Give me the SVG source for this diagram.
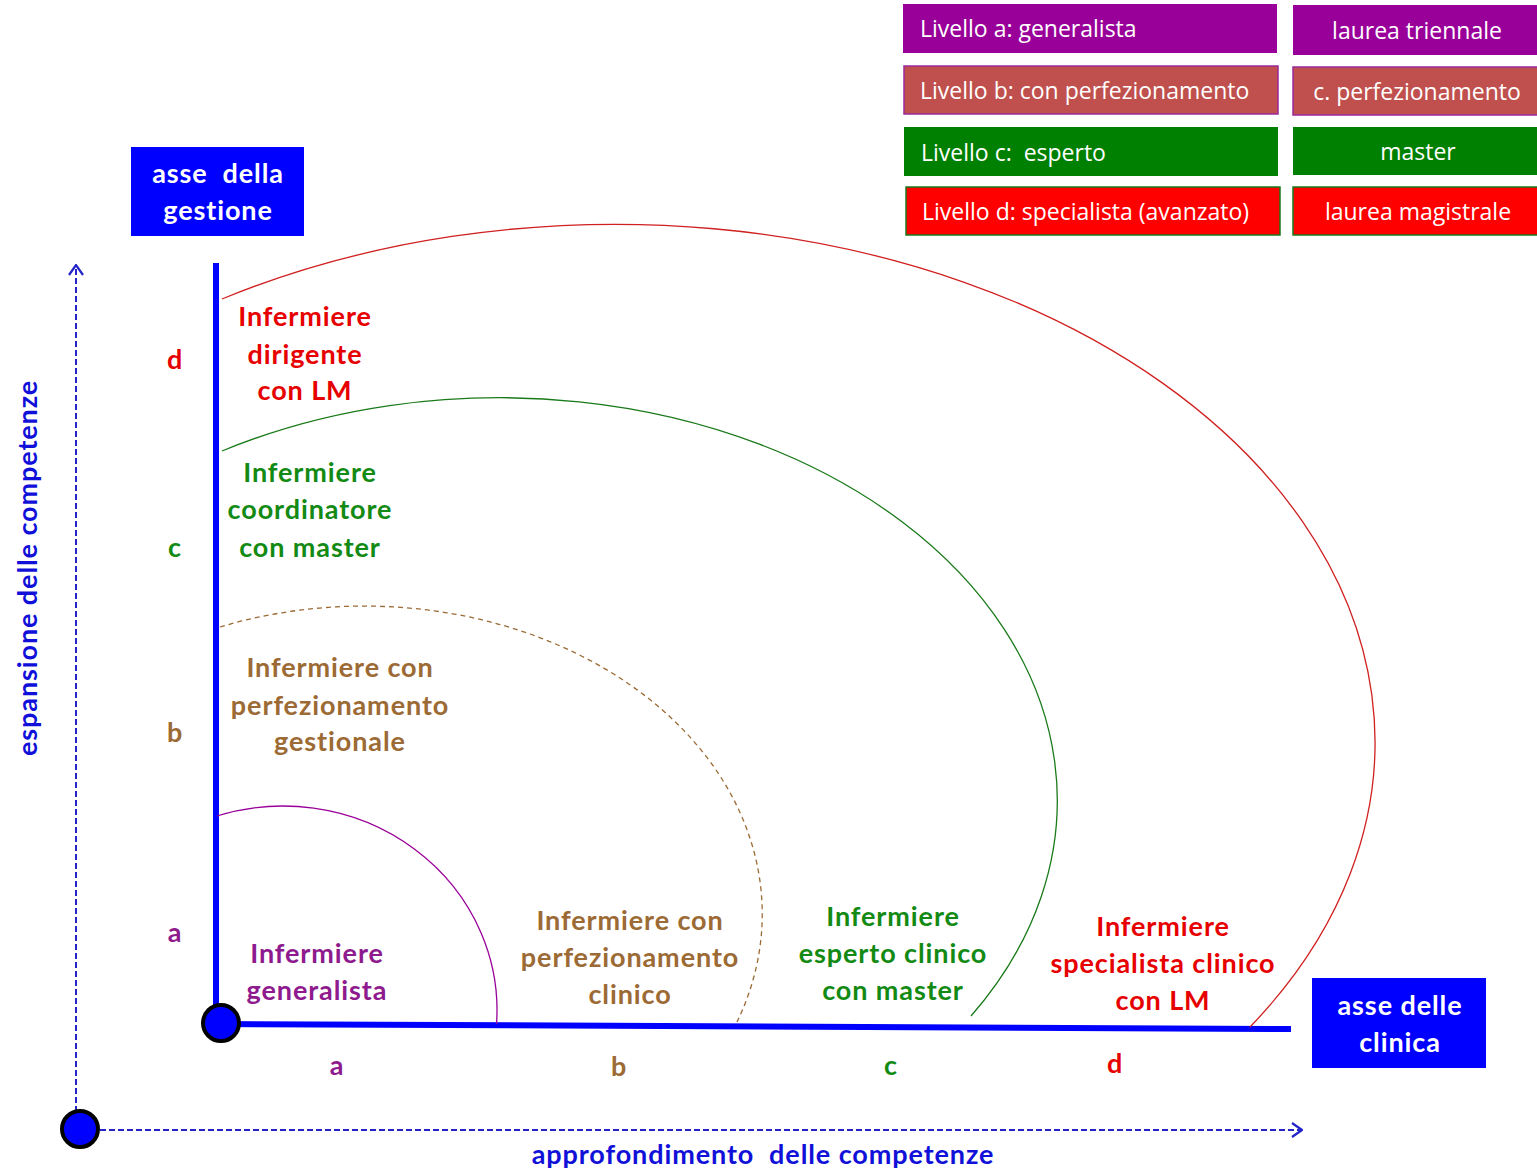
<svg xmlns="http://www.w3.org/2000/svg" width="1537" height="1170" viewBox="0 0 1537 1170">
<defs>
<marker id="chev" viewBox="0 0 12 16" refX="11" refY="8" markerWidth="12" markerHeight="16" markerUnits="userSpaceOnUse" orient="auto">
<polyline points="1,1 11,8 1,15" fill="none" stroke="#2424c8" stroke-width="2.2"/>
</marker>
<style>
.t{font-family:Lato,"Open Sans","Liberation Sans",sans-serif;font-weight:bold;font-size:27px;letter-spacing:0.9px;text-anchor:middle}
.lg{font-family:"Open Sans",Lato,"Liberation Sans",sans-serif;font-size:23px;fill:#fff}
.pre{white-space:pre}
.w{fill:#fff}
.pu{fill:#8e1a8e}
.br{fill:#9c6a34}
.gr{fill:#138a13}
.rd{fill:#e60000}
.bl{fill:#1010d8}
.arc{fill:none;stroke-width:1.3}
.dash{fill:none;stroke:#2424c8;stroke-width:2;stroke-dasharray:6 3}
</style>
</defs>
<rect width="1537" height="1170" fill="#fff"/>

<g id="legend">
<rect x="903" y="4" width="374" height="49" fill="#990099"/>
<rect x="904" y="66" width="374" height="48" fill="#c0504d" stroke="#9a2a9a" stroke-width="1.5"/>
<rect x="904" y="127" width="374" height="49" fill="#008000"/>
<rect x="906" y="187" width="374" height="48" fill="#ff0000" stroke="#1a7a1a" stroke-width="1.5"/>
<rect x="1293" y="5" width="250" height="50" fill="#990099"/>
<rect x="1293" y="67" width="250" height="48" fill="#c0504d" stroke="#9a2a9a" stroke-width="1.5"/>
<rect x="1293" y="127" width="250" height="48" fill="#008000"/>
<rect x="1293" y="187" width="250" height="48" fill="#ff0000" stroke="#1a7a1a" stroke-width="1.5"/>
<text class="lg" x="920" y="37">Livello a: generalista</text>
<text class="lg" x="920" y="99">Livello b: con perfezionamento</text>
<text class="lg pre" x="921" y="161">Livello c:  esperto</text>
<text class="lg" x="922" y="220">Livello d: specialista (avanzato)</text>
<text class="lg" x="1417" y="39" text-anchor="middle">laurea triennale</text>
<text class="lg" x="1417" y="100" text-anchor="middle">c. perfezionamento</text>
<text class="lg" x="1418" y="160" text-anchor="middle">master</text>
<text class="lg" x="1418" y="220" text-anchor="middle">laurea magistrale</text>
</g>

<g id="asse-gestione">
<rect x="131" y="147" width="173" height="89" fill="#0000ff"/>
<text class="t w pre" x="218" y="183">asse  della</text>
<text class="t w" x="218" y="220">gestione</text>
</g>

<g id="asse-clinica">
<rect x="1312" y="978" width="174" height="90" fill="#0000ff"/>
<text class="t w" x="1400" y="1015">asse delle</text>
<text class="t w" x="1400" y="1052">clinica</text>
</g>

<g id="connectors">
<line class="dash" x1="76" y1="1112" x2="76" y2="265" marker-end="url(#chev)"/>
<line class="dash" x1="100" y1="1130" x2="1302" y2="1130" marker-end="url(#chev)"/>
<line x1="216" y1="263" x2="216" y2="1022" stroke="#0000ff" stroke-width="6"/>
<line x1="221" y1="1024" x2="1291" y2="1029" stroke="#0000ff" stroke-width="6"/>
<path class="arc" stroke="#990099" d="M217,816 A214,204 0 0 1 496.5,1024"/>
<path class="arc" stroke="#9c6a34" stroke-dasharray="5 4" d="M220,627 A398,308 0 0 1 737,1022"/>
<path class="arc" stroke="#1a7a1a" stroke-width="1" d="M222,451 A558,403 0 0 1 971,1016"/>
<path class="arc" stroke="#d02020" stroke-width="1" d="M222,299 A760,518 0 0 1 1250,1027"/>
</g>

<g id="origin">
<circle cx="221" cy="1023" r="18" fill="#0000ff" stroke="#000" stroke-width="4"/>
</g>
<g id="origin-outer">
<circle cx="80" cy="1129" r="18" fill="#0000ff" stroke="#000" stroke-width="4"/>
</g>

<g id="n-dirigente">
<text class="t rd" x="305" y="326">Infermiere</text>
<text class="t rd" x="305" y="364">dirigente</text>
<text class="t rd" x="305" y="400">con LM</text>
</g>
<g id="n-coordinatore">
<text class="t gr" x="310" y="482">Infermiere</text>
<text class="t gr" x="310" y="519">coordinatore</text>
<text class="t gr" x="310" y="557">con master</text>
</g>
<g id="n-perf-gestionale">
<text class="t br" x="340" y="677">Infermiere con</text>
<text class="t br" x="340" y="715">perfezionamento</text>
<text class="t br" x="340" y="751">gestionale</text>
</g>
<g id="n-generalista">
<text class="t pu" x="317" y="963">Infermiere</text>
<text class="t pu" x="317" y="1000">generalista</text>
</g>
<g id="n-perf-clinico">
<text class="t br" x="630" y="930">Infermiere con</text>
<text class="t br" x="630" y="967">perfezionamento</text>
<text class="t br" x="630" y="1004">clinico</text>
</g>
<g id="n-esperto">
<text class="t gr" x="893" y="926">Infermiere</text>
<text class="t gr" x="893" y="963">esperto clinico</text>
<text class="t gr" x="893" y="1000">con master</text>
</g>
<g id="n-specialista">
<text class="t rd" x="1163" y="936">Infermiere</text>
<text class="t rd" x="1163" y="973">specialista clinico</text>
<text class="t rd" x="1163" y="1010">con LM</text>
</g>

<g id="levels">
<text class="t rd" x="175" y="369">d</text>
<text class="t gr" x="175" y="557">c</text>
<text class="t br" x="175" y="742">b</text>
<text class="t pu" x="175" y="942">a</text>
<text class="t pu" x="337" y="1075">a</text>
<text class="t br" x="619" y="1076">b</text>
<text class="t gr" x="891" y="1075">c</text>
<text class="t rd" x="1115" y="1073">d</text>
</g>

<g id="axis-labels">
<text class="t bl pre" x="763" y="1164">approfondimento  delle competenze</text>
<text class="t bl" transform="translate(37,568) rotate(-90)" x="0" y="0">espansione delle competenze</text>
</g>
</svg>
